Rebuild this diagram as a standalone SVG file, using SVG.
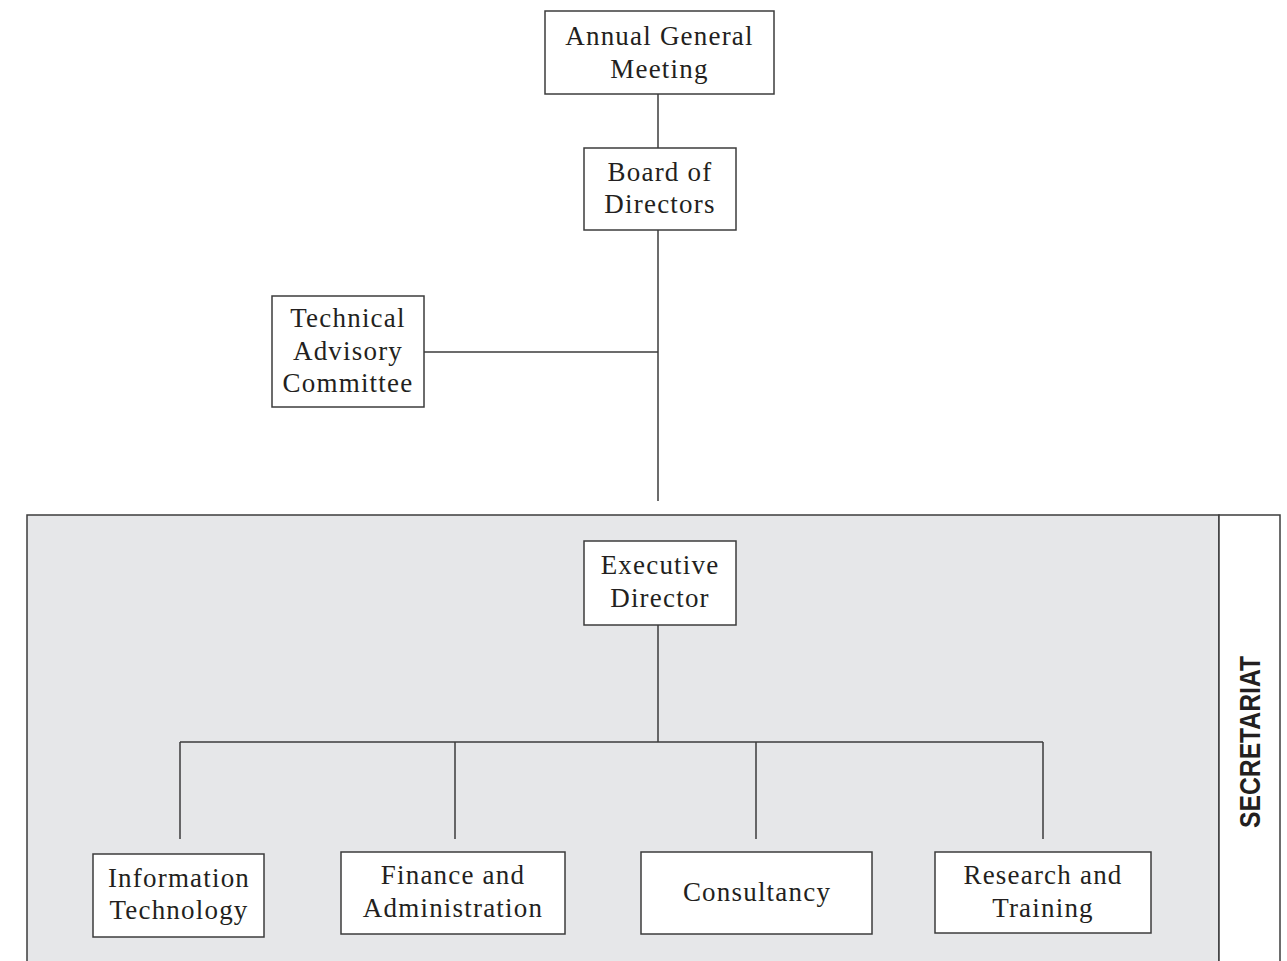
<svg xmlns="http://www.w3.org/2000/svg" width="1287" height="961" viewBox="0 0 1287 961">
<style>
.box{fill:#fff;stroke:#3c3c3c;stroke-width:1.5}
.ln{fill:none;stroke:#3c3c3c;stroke-width:1.5}
.t{font-family:"Liberation Serif","Times New Roman",serif;font-size:27px;letter-spacing:1.2px;fill:#231f20;text-anchor:middle}
.sec{font-family:"Liberation Sans",Arial,sans-serif;font-weight:bold;font-size:29px;fill:#231f20;text-anchor:middle}
</style>
<rect width="1287" height="961" fill="#fff"/>
<g id="secretariat">
<rect x="27" y="515" width="1192" height="460" fill="#e6e7e9" stroke="#3c3c3c" stroke-width="1.5"/>
<rect x="1219" y="515" width="61" height="460" fill="#fff" stroke="#3c3c3c" stroke-width="1.5"/>
<text class="sec" transform="translate(1260,742) rotate(-90)" textLength="172" lengthAdjust="spacingAndGlyphs">SECRETARIAT</text>
</g>
<g id="connectors">
<path class="ln" d="M658 94V148M658 230V501M424 352H658M658 625V742M180 742H1043M180 742V839M455 742V839M756 742V839M1043 742V839"/>
</g>
<g id="agm">
<rect class="box" x="545" y="11" width="229" height="83"/>
<text class="t" x="659.5" y="45">Annual General</text>
<text class="t" x="659.5" y="78">Meeting</text>
</g>
<g id="board">
<rect class="box" x="584" y="148" width="152" height="82"/>
<text class="t" x="660" y="181">Board of</text>
<text class="t" x="660" y="213">Directors</text>
</g>
<g id="tac">
<rect class="box" x="272" y="296" width="152" height="111"/>
<text class="t" x="348" y="327">Technical</text>
<text class="t" x="348" y="360">Advisory</text>
<text class="t" x="348" y="392">Committee</text>
</g>
<g id="executive">
<rect class="box" x="584" y="541" width="152" height="84"/>
<text class="t" x="660" y="574">Executive</text>
<text class="t" x="660" y="607">Director</text>
</g>
<g id="it">
<rect class="box" x="93" y="854" width="171" height="83"/>
<text class="t" x="179" y="887">Information</text>
<text class="t" x="179" y="919">Technology</text>
</g>
<g id="finance">
<rect class="box" x="341" y="852" width="224" height="82"/>
<text class="t" x="453" y="884">Finance and</text>
<text class="t" x="453" y="917">Administration</text>
</g>
<g id="consultancy">
<rect class="box" x="641" y="852" width="231" height="82"/>
<text class="t" x="757" y="901">Consultancy</text>
</g>
<g id="research">
<rect class="box" x="935" y="852" width="216" height="81"/>
<text class="t" x="1043" y="884">Research and</text>
<text class="t" x="1043" y="917">Training</text>
</g>
</svg>
